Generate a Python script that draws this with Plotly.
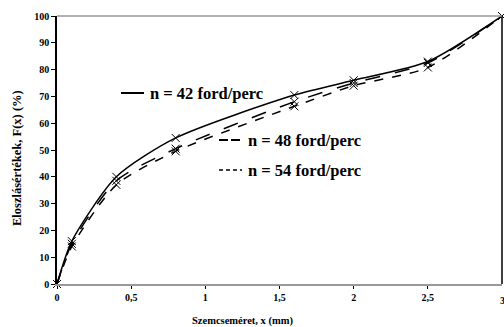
import plotly.graph_objects as go

x_vals = [0, 0.1, 0.4, 0.8, 1.6, 2.0, 2.5, 3.0]
n42 = [0, 16, 40, 54.5, 70.5, 76, 83, 100]
n48 = [0, 15, 38.5, 50.5, 68, 75, 82.5, 100]
n54 = [0, 14, 37, 49.5, 66.3, 74, 80.8, 100]
labels = ["n = 42 ford/perc", "n = 48 ford/perc", "n = 54 ford/perc"]
dashes = ["solid", "longdash", "dash"]
x_ticks = [0, 0.5, 1, 1.5, 2, 2.5, 3]
x_ticktext = ["0", "0,5", "1", "1,5", "2", "2,5", "3"]
y_ticks = list(range(0, 101, 10))

FONT = "Liberation Serif"
W, H = 504, 327
ML, MR, MT, MB = 57, 2, 16, 43
PW, PH = W - ML - MR, H - MT - MB

def px(xp):
    return (xp - ML) / PW

def py(yp):
    return (H - MB - yp) / PH

fig = go.Figure()
for ys, lab, d in zip([n42, n48, n54], labels, dashes):
    fig.add_trace(go.Scatter(
        x=x_vals, y=ys, name=lab, mode="lines+markers",
        line=dict(color="black", width=1.5, dash=d, shape="spline", smoothing=0.7),
        marker=dict(symbol="x-thin", size=8, line=dict(color="black", width=1)),
        showlegend=False, cliponaxis=False))

# legend samples: (line x0, line x1, y) in pixels
leg = [(121, 144, 93), (219, 242, 140), (219, 242, 170)]
leg_dash = ["solid", "9px,3px", "4px,3px"]
leg_w = [2, 2, 1.5]
for (x0, x1, yy), lab, d, w in zip(leg, labels, leg_dash, leg_w):
    fig.add_shape(type="line", xref="paper", yref="paper", x0=px(x0), x1=px(x1), y0=py(yy), y1=py(yy),
                  line=dict(color="black", width=w, dash=d))
    fig.add_annotation(xref="paper", yref="paper", x=px(x1 + 4), y=py(yy), text=f"<b>{lab}</b>",
                       showarrow=False, xanchor="left", yanchor="middle",
                       font=dict(family=FONT, size=16.5, color="black"))

# axis titles
fig.add_annotation(xref="paper", yref="paper", x=px(242), y=py(321), text="<b>Szemcseméret, x (mm)</b>",
                   showarrow=False, xanchor="center", yanchor="middle",
                   font=dict(family=FONT, size=10.5, color="black"))
fig.add_annotation(xref="paper", yref="paper", x=px(17), y=py(158), text="<b>Eloszlásértékek, F(x) (%)</b>",
                   showarrow=False, xanchor="center", yanchor="middle", textangle=-90,
                   font=dict(family=FONT, size=12.5, color="black"))
# last x tick label (partially off the page, as in the reference)
fig.add_annotation(xref="x", yref="paper", x=x_ticks[-1], y=py(300), text=f"<b>{x_ticktext[-1]}</b>",
                   showarrow=False, xanchor="center", yanchor="middle",
                   font=dict(family=FONT, size=10, color="black"))

# right border
fig.add_shape(type="line", xref="paper", yref="paper", x0=1, x1=1, y0=0, y1=1,
              line=dict(color="black", width=1.5))
# top border
fig.add_shape(type="line", xref="paper", yref="paper", x0=0, x1=1, y0=1, y1=1,
              line=dict(color="#999999", width=1.5))

fig.update_layout(
    width=W, height=H,
    margin=dict(l=ML, r=MR, t=MT, b=MB),
    paper_bgcolor="white", plot_bgcolor="white",
    font=dict(family=FONT, color="black", size=10),
    xaxis=dict(range=[0, 3], tickvals=x_ticks[:-1],
               ticktext=[f"<b>{t}</b>" for t in x_ticktext[:-1]],
               showgrid=False, zeroline=False, showline=True, linecolor="#999999", linewidth=1.5,
               ticks="outside", ticklen=3, tickcolor="black", automargin=False),
    yaxis=dict(range=[0, 100], tickvals=y_ticks,
               ticktext=[f"<b>{v}</b>" for v in y_ticks],
               showgrid=False, zeroline=False, showline=True, linecolor="black", linewidth=1.5,
               ticks="outside", ticklen=4, tickcolor="black", automargin=False),
)
fig.write_html("out.html", config={"displayModeBar": False},
               post_script="document.body.style.margin='0';document.body.style.overflow='hidden';")
